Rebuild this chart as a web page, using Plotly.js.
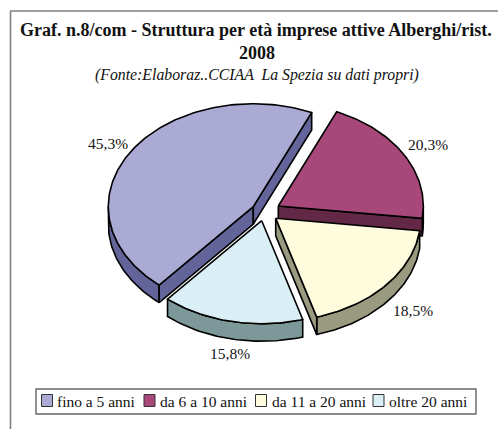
<!DOCTYPE html>
<html>
<head>
<meta charset="utf-8">
<script src="https://cdn.plot.ly/plotly-3.0.1.min.js"></script>
<style>html,body{margin:0;padding:0;background:#fff}#c{width:498px;height:429px}</style>
</head>
<body>
<div id="c"></div>
<script>
// Data
const categories = ['fino a 5 anni', 'da 6 a 10 anni', 'da 11 a 20 anni', 'oltre 20 anni'];
const values = [45.3, 20.3, 18.5, 15.8];
const topColors = ['#ABAAD5', '#A8487A', '#FFFBDD', '#DAEEF6'];
const sideColors = ['#62649A', '#632845', '#9A9A80', '#7C9898'];

// Pie projection (axis units equal page pixels)
const apexX = [253.3, 278.3, 275.7, 261.7];
const apexY = [206.7, 206.0, 218.3, 220.7];
const radiusX = 145, radiusY = 103, depth = 17.5, startAngle = 220.5;
const labelX = [108, 428, 413, 230];
const labelY = [143, 144, 310, 353];
const swatchX = [41.5, 144, 255.5, 373];
const legendTextX = [55, 158, 269.5, 387];
const black = '#000';

const rad = d => d * Math.PI / 180;
const total = values.reduce((a, b) => a + b, 0);
let cursor = startAngle;
const traces = [];
values.forEach((v, i) => {
  const a0 = cursor, a1 = cursor + v / total * 360;
  cursor = a1;
  const px = a => apexX[i] + radiusX * Math.sin(rad(a));
  const py = a => apexY[i] - radiusY * Math.cos(rad(a));
  const poly = (xs, ys, color) => traces.push({
    type: 'scatter', mode: 'lines', x: xs, y: ys, fill: 'toself', fillcolor: color,
    line: { color: black, width: 1.6, shape: 'linear' }, hoverinfo: 'skip', showlegend: false
  });
  const mid = (a0 + a1) / 2;
  // curved rim, the part on the front half of the ellipse
  [0, 360].forEach(turn => {
    const r0 = Math.max(a0, 90 + turn), r1 = Math.min(a1, 270 + turn);
    if (r1 > r0) {
      const xs = [], ys = [];
      for (let a = r0; a < r1; a += 1) { xs.push(px(a)); ys.push(py(a)); }
      xs.push(px(r1)); ys.push(py(r1));
      ys.push(py(r1) + depth); xs.push(px(r1));
      for (let a = r1 - 1; a > r0; a -= 1) { xs.push(px(a)); ys.push(py(a) + depth); }
      xs.push(px(r0), xs[0]); ys.push(py(r0) + depth, ys[0]);
      poly(xs, ys, sideColors[i]);
    }
  });
  // straight side walls, where they face the viewer
  [a0, a1].forEach(a => {
    const ex = px(a) - apexX[i], ey = py(a) - apexY[i];
    let nx = -ey, ny = ex;
    const mx = px(mid) - apexX[i], my = py(mid) - apexY[i];
    if (nx * mx + ny * my > 0) { nx = -nx; ny = -ny; }
    if (ny > 0) {
      poly([apexX[i], px(a), px(a), apexX[i], apexX[i]],
           [apexY[i], py(a), py(a) + depth, apexY[i] + depth, apexY[i]], sideColors[i]);
    }
  });
  // top face
  const xs = [apexX[i]], ys = [apexY[i]];
  for (let a = a0; a < a1; a += 1) { xs.push(px(a)); ys.push(py(a)); }
  xs.push(px(a1), apexX[i]); ys.push(py(a1), apexY[i]);
  poly(xs, ys, topColors[i]);
});

const font = { family: '"Liberation Serif", serif', color: '#111' };
const annotations = values.map((v, i) => ({
  x: labelX[i], y: labelY[i], xref: 'x', yref: 'y', showarrow: false,
  text: v.toFixed(1).replace('.', ',') + '%', font: { ...font, size: 15.5 }
}));
annotations.push({
  x: 257, y: 53, xref: 'x', yref: 'y', showarrow: false,
  text: '<b>2008</b>', font: { ...font, size: 18 }
});
annotations.push({
  x: 257, y: 75, xref: 'x', yref: 'y', showarrow: false,
  text: '<i>(Fonte:Elaboraz..CCIAA  La Spezia su dati propri)</i>', font: { ...font, size: 15.8 }
});
categories.forEach((c, i) => annotations.push({
  x: legendTextX[i], y: 401.5, xref: 'x', yref: 'y', xanchor: 'left', showarrow: false,
  text: c, font: { ...font, size: 15.5 }
}));

const grey = '#666';
const shapes = [
  { type: 'line', x0: 10.5, x1: 10.5, y0: 11, y1: 429, line: { color: '#808080', width: 1.6 } },
  { type: 'line', x0: 10, x1: 498, y0: 11, y1: 11, line: { color: '#808080', width: 1.6 } },
  { type: 'rect', x0: 36, x1: 476, y0: 389, y1: 414, line: { color: grey, width: 1.4 } }
];
swatchX.forEach((x, i) => shapes.push({
  type: 'rect', x0: x, x1: x + 11, y0: 394.5, y1: 406.5, fillcolor: topColors[i], line: { color: '#333', width: 1 }
}));

Plotly.newPlot('c', traces, {
  width: 498, height: 429,
  margin: { l: 0, r: 0, t: 0, b: 0 },
  paper_bgcolor: '#fff', plot_bgcolor: '#fff', showlegend: false,
  title: {
    text: '<b>Graf. n.8/com - Struttura per età imprese attive Alberghi/rist.</b>',
    font: { ...font, size: 18 }, x: 0.514, xanchor: 'center', y: 0.93, yanchor: 'middle', yref: 'container'
  },
  xaxis: { range: [0, 498], visible: false, fixedrange: true },
  yaxis: { range: [429, 0], visible: false, fixedrange: true },
  annotations, shapes
}, { displayModeBar: false, staticPlot: true });
</script>
</body>
</html>
